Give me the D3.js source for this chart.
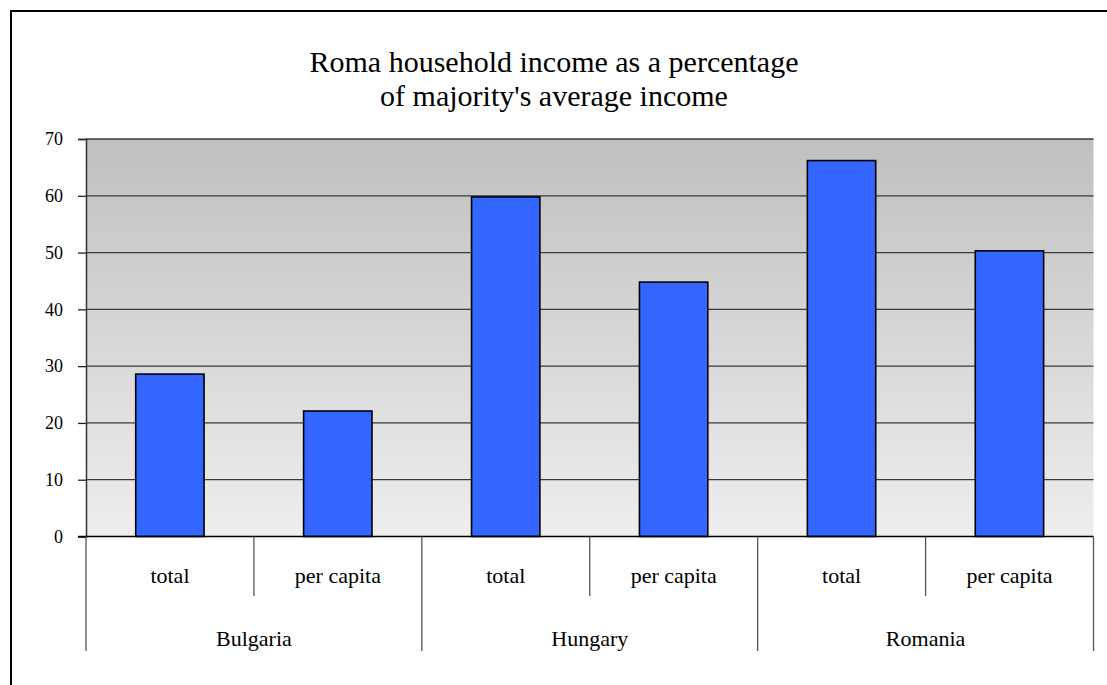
<!DOCTYPE html>
<html>
<head>
<meta charset="utf-8">
<script src="https://cdn.jsdelivr.net/npm/d3@7"></script>
<style>
  html, body { margin: 0; padding: 0; background: #fff; }
  svg { display: block; }
  text { font-family: "Liberation Serif", "Times New Roman", serif; fill: #000; }
</style>
</head>
<body>
<svg id="chart" width="1107" height="685"></svg>
<script>
// Roma household income relative to the majority's average (%)
const countries = ["Bulgaria", "Hungary", "Romania"];
const measures = ["total", "per capita"];
const totalValues = [28.6, 59.8, 66.2];
const perCapitaValues = [22.1, 44.8, 50.3];
const yTicks = [0, 10, 20, 30, 40, 50, 60, 70];
const titleLines = ["Roma household income as a percentage", "of majority's average income"];

const rows = [];
countries.forEach((c, i) => {
  rows.push({ country: c, measure: measures[0], value: totalValues[i], key: c + "|" + measures[0] });
  rows.push({ country: c, measure: measures[1], value: perCapitaValues[i], key: c + "|" + measures[1] });
});

const svg = d3.select("#chart");
const plot = { left: 86, right: 1093.5, top: 139, bottom: 536.5 };

// outer frame (runs past the right and bottom edges)
svg.append("rect")
  .attr("x", 11).attr("y", 11)
  .attr("width", 1120).attr("height", 700)
  .attr("fill", "none").attr("stroke", "#000").attr("stroke-width", 2);

// title
const title = svg.append("text")
  .attr("text-anchor", "middle")
  .style("font-size", "30px");
titleLines.forEach((t, i) => {
  title.append("tspan").attr("x", 554).attr("y", 72 + i * 34).text(t);
});

const x = d3.scaleBand().domain(rows.map(d => d.key)).range([plot.left, plot.right]);
const y = d3.scaleLinear().domain([0, 70]).range([plot.bottom, plot.top]);

// plot background gradient
const defs = svg.append("defs");
const grad = defs.append("linearGradient").attr("id", "bg").attr("x1", 0).attr("y1", 0).attr("x2", 0).attr("y2", 1);
grad.append("stop").attr("offset", "0%").attr("stop-color", "#c0c0c0");
grad.append("stop").attr("offset", "100%").attr("stop-color", "#eeeeee");
svg.append("rect")
  .attr("x", plot.left).attr("y", plot.top)
  .attr("width", plot.right - plot.left).attr("height", plot.bottom - plot.top)
  .attr("fill", "url(#bg)");

// gridlines
svg.append("g").selectAll("line").data(yTicks.filter(t => t > 0)).join("line")
  .attr("x1", plot.left).attr("x2", plot.right)
  .attr("y1", d => y(d)).attr("y2", d => y(d))
  .attr("stroke", "#3a3a3a").attr("stroke-width", 1.3);

// y axis
const yAxis = svg.append("g")
  .attr("transform", `translate(${plot.left},0)`)
  .call(d3.axisLeft(y).tickValues(yTicks).tickSize(8).tickPadding(15));
yAxis.select(".domain").attr("stroke", "#333").attr("stroke-width", 1.5);
yAxis.selectAll(".tick line").attr("stroke", "#222").attr("stroke-width", 1.3);
yAxis.selectAll(".tick text")
  .style("font-size", "18px")
  .style("font-family", "'Liberation Serif', 'Times New Roman', serif")
  .attr("fill", "#000");

// bars
const bw = x.bandwidth();
svg.append("g").selectAll("rect").data(rows).join("rect")
  .attr("x", d => x(d.key) + bw * 0.296)
  .attr("width", bw * 0.407)
  .attr("y", d => y(d.value))
  .attr("height", d => y(0) - y(d.value))
  .attr("fill", "#3366ff")
  .attr("stroke", "#000").attr("stroke-width", 1.6);

// baseline
svg.append("line")
  .attr("x1", plot.left - 8).attr("x2", plot.right)
  .attr("y1", plot.bottom).attr("y2", plot.bottom)
  .attr("stroke", "#000").attr("stroke-width", 1.5);

// multi-level category axis
const cat = svg.append("g");
// separators between measures inside a country
rows.forEach((d, i) => {
  if (i % 2 === 1) {
    cat.append("line")
      .attr("x1", x(d.key)).attr("x2", x(d.key))
      .attr("y1", plot.bottom).attr("y2", 596)
      .attr("stroke", "#555").attr("stroke-width", 1.3);
  }
});
// separators between countries (and outer edges)
const edges = countries.map(c => x(c + "|" + measures[0])).concat([plot.right]);
cat.selectAll("line.grp").data(edges).join("line").attr("class", "grp")
  .attr("x1", d => d).attr("x2", d => d)
  .attr("y1", plot.bottom).attr("y2", 651)
  .attr("stroke", "#555").attr("stroke-width", 1.3);

cat.selectAll("text.measure").data(rows).join("text").attr("class", "measure")
  .attr("x", d => x(d.key) + bw / 2)
  .attr("y", 583)
  .attr("text-anchor", "middle")
  .style("font-size", "22px")
  .text(d => d.measure);

cat.selectAll("text.country").data(countries).join("text").attr("class", "country")
  .attr("x", c => x(c + "|" + measures[0]) + bw)
  .attr("y", 646)
  .attr("text-anchor", "middle")
  .style("font-size", "22px")
  .text(c => c);
</script>
</body>
</html>
